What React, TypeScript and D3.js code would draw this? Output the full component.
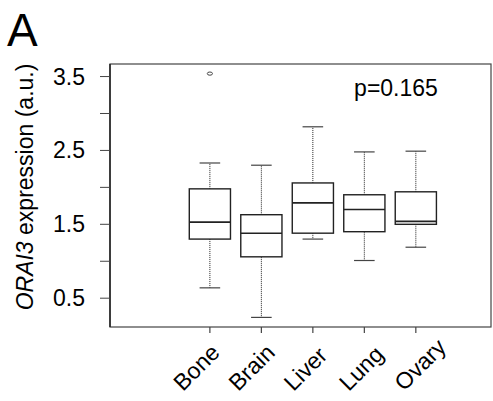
import React from "react";
import * as d3 from "d3";

const categories = ["Bone", "Brain", "Liver", "Lung", "Ovary"];
const whiskerLow = [0.64, 0.24, 1.3, 1.01, 1.19];
const q1 = [1.3, 1.06, 1.38, 1.4, 1.5];
const median = [1.53, 1.38, 1.79, 1.7, 1.54];
const q3 = [1.98, 1.63, 2.06, 1.9, 1.94];
const whiskerHigh = [2.33, 2.3, 2.82, 2.48, 2.49];
const outliers: number[][] = [[3.54], [], [], [], []];
const yTickLabels = [0.5, 1.5, 2.5, 3.5];
const yMinorTicks = [1.0, 2.0, 3.0];
const pValueText = "p=0.165";

const W = 493;
const H = 401;
const L = 110, R = 491, T = 64, B = 327;
const FONT = "'Liberation Sans', Arial, Helvetica, sans-serif";

export default function App() {
  const x = d3.scaleLinear().domain([-0.94, 6.46]).range([L, R]);
  const y = d3.scaleLinear().domain([0.11, 3.67]).range([B, T]);
  // label start positions (labels in the source are spread slightly wider than ticks)
  const xLabel = d3.scaleLinear().domain([1, 5]).range([183, 404]);
  const hw = 0.4;
  const cap = 0.2;
  const ink = "#222";
  const fs = 23;

  return (
    <svg width={W} height={H} style={{ position: "absolute", left: 0, top: 0, background: "#fff" }} fontFamily={FONT}>
      <rect x={0} y={0} width={W} height={H} fill="#fff" />
      {/* panel letter */}
      <text x={7} y={46} fontSize={46} fill="#000">A</text>
      {/* frame */}
      <rect x={L} y={T} width={R - L} height={B - T} fill="none" stroke="#444" strokeWidth={1.2} />
      <line x1={L} x2={L} y1={T} y2={B} stroke="#222" strokeWidth={1.5} />
      {/* y axis ticks */}
      {[...yTickLabels, ...yMinorTicks].map((v, i) => (
        <line key={"yt" + i} x1={L - 10} x2={L} y1={y(v)} y2={y(v)} stroke="#444" strokeWidth={1} />
      ))}
      {yTickLabels.map((v, i) => (
        <text key={"yl" + i} x={85} y={y(v)} dy="0.35em" textAnchor="end" fontSize={fs} fill="#000">
          {v.toFixed(1)}
        </text>
      ))}
      {/* y label */}
      <text transform={`translate(33,187) rotate(-90)`} textAnchor="middle" fontSize={fs} fill="#000">
        <tspan fontStyle="italic">ORAI3</tspan>
        <tspan> expression (a.u.)</tspan>
      </text>
      {/* x ticks and labels */}
      {categories.map((c, i) => (
        <g key={"xc" + i}>
          <line x1={x(i + 1)} x2={x(i + 1)} y1={B} y2={B + 6} stroke="#444" strokeWidth={1.2} />
          <text
            transform={`translate(${xLabel(i + 1)},${392}) rotate(-45)`}
            textAnchor="start"
            fontSize={fs}
            fill="#000"
          >
            {c}
          </text>
        </g>
      ))}
      {/* boxes */}
      {categories.map((c, i) => {
        const cx = x(i + 1);
        const x0 = x(i + 1 - hw);
        const x1 = x(i + 1 + hw);
        const c0 = x(i + 1 - cap);
        const c1 = x(i + 1 + cap);
        return (
          <g key={"box" + i}>
            <line x1={cx} x2={cx} y1={y(q3[i])} y2={y(whiskerHigh[i])} stroke={ink} strokeWidth={1} strokeDasharray="1,1" />
            <line x1={cx} x2={cx} y1={y(q1[i])} y2={y(whiskerLow[i])} stroke={ink} strokeWidth={1} strokeDasharray="1,1" />
            <line x1={c0} x2={c1} y1={y(whiskerHigh[i])} y2={y(whiskerHigh[i])} stroke="#444" strokeWidth={1.2} />
            <line x1={c0} x2={c1} y1={y(whiskerLow[i])} y2={y(whiskerLow[i])} stroke="#444" strokeWidth={1.2} />
            <rect x={x0} y={y(q3[i])} width={x1 - x0} height={y(q1[i]) - y(q3[i])} fill="#fff" stroke={ink} strokeWidth={1.4} />
            <line x1={x0} x2={x1} y1={y(median[i])} y2={y(median[i])} stroke={ink} strokeWidth={1.6} />
            {outliers[i].map((o, j) => (
              <ellipse key={j} cx={cx} cy={y(o)} rx={2.6} ry={1.6} fill="none" stroke="#444" strokeWidth={1} />
            ))}
          </g>
        );
      })}
      {/* p value */}
      <text x={396} y={96} textAnchor="middle" fontSize={fs} fill="#000">{pValueText}</text>
    </svg>
  );
}
